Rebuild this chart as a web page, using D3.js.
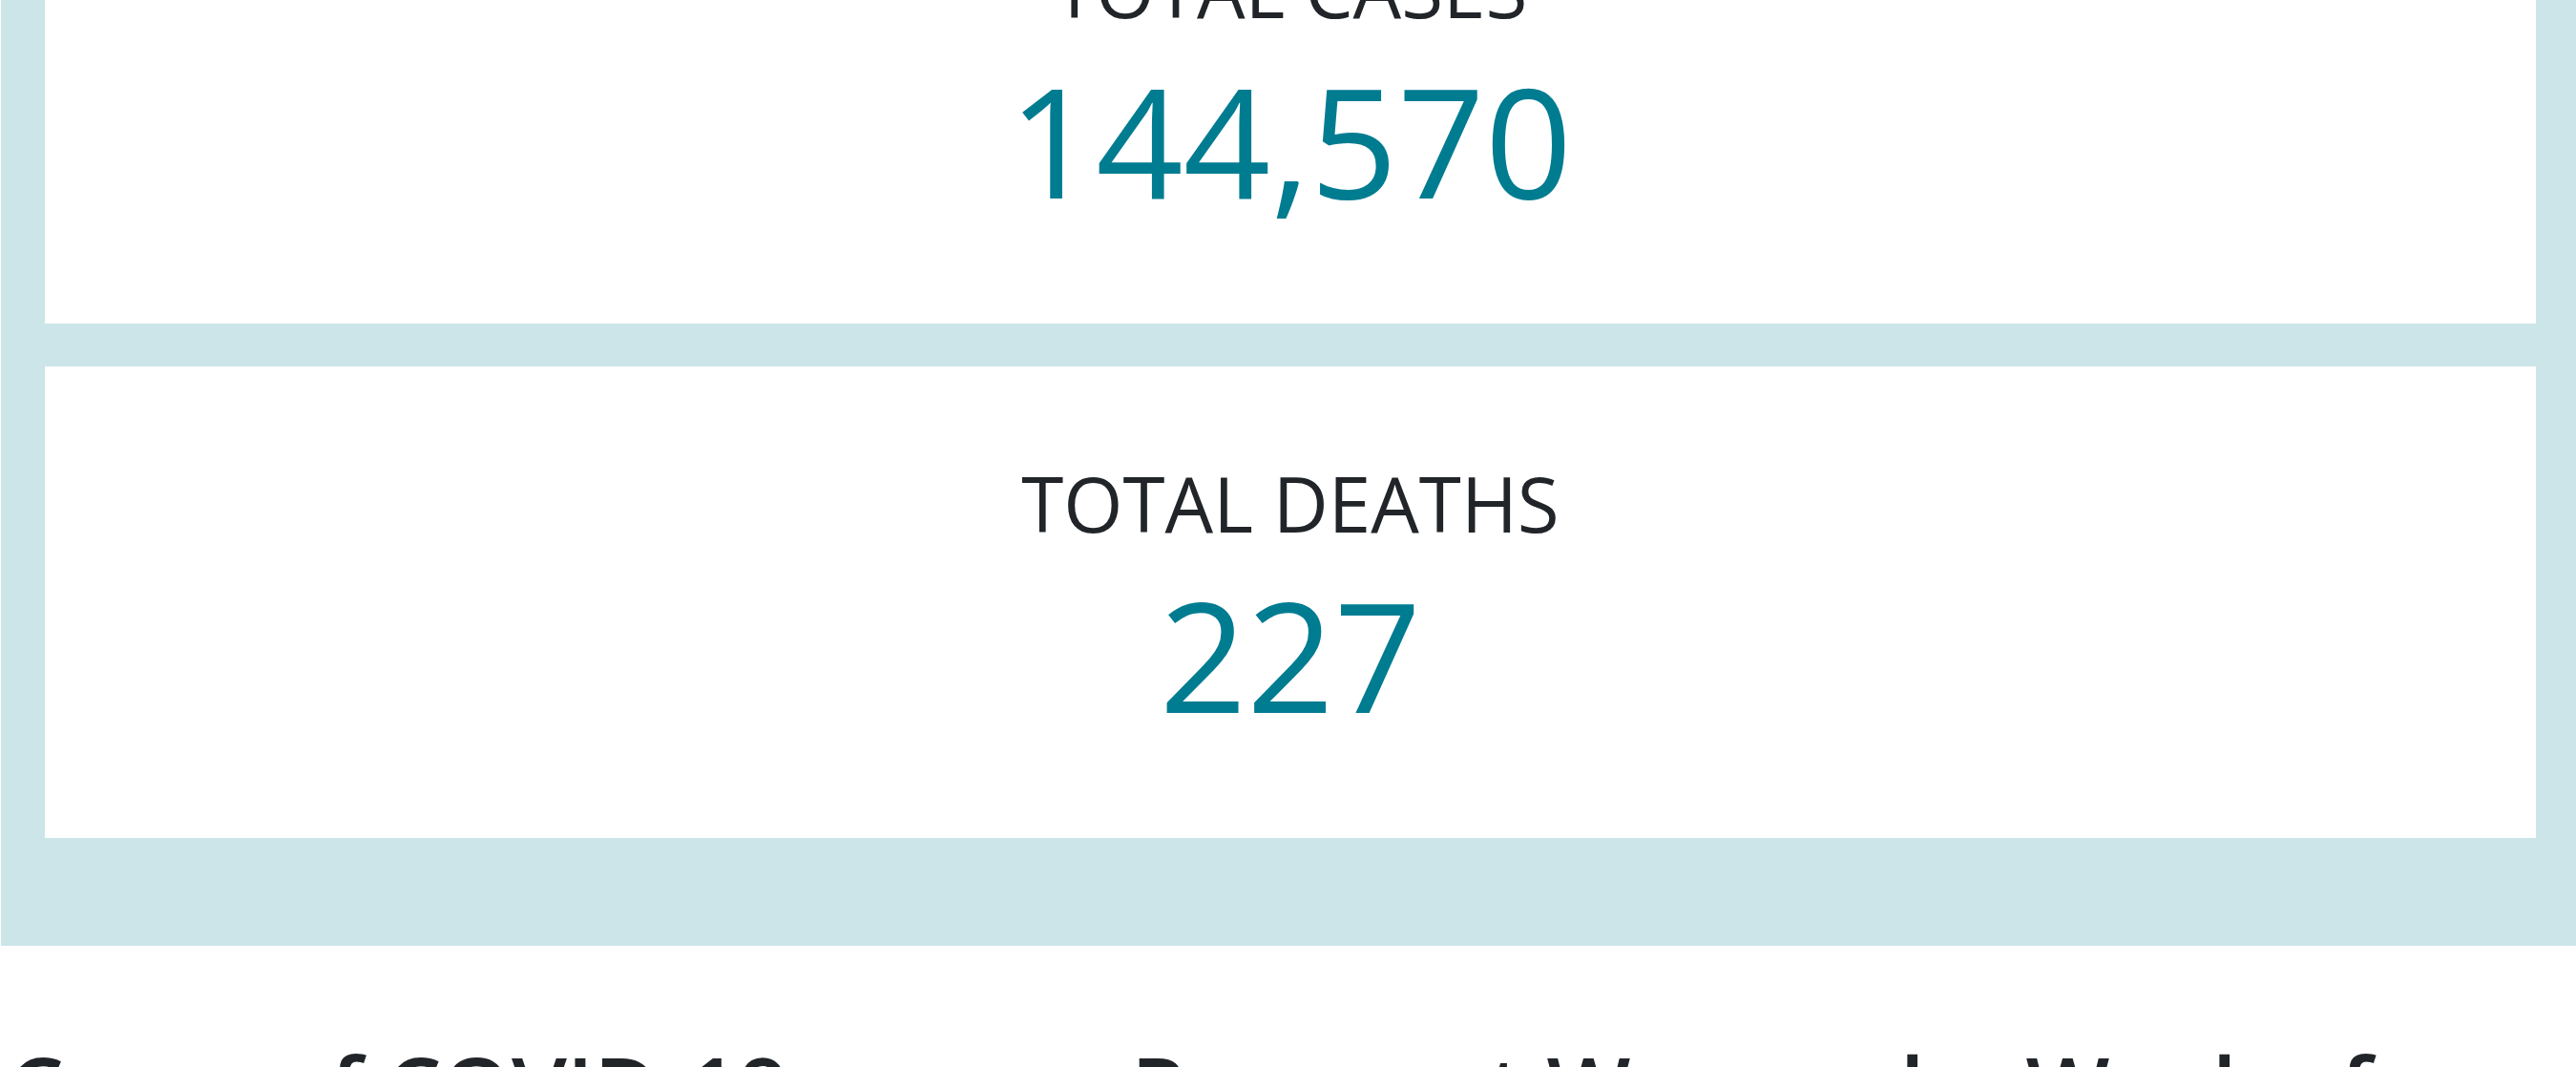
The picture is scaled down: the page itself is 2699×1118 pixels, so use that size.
<!DOCTYPE html>
<html>
<head>
<meta charset="utf-8">
<script src="https://cdn.jsdelivr.net/npm/d3@7"></script>
<style>
  html, body { margin: 0; padding: 0; background: #fff; overflow: hidden; }
  svg { display: block; font-family: "Open Sans", sans-serif; }
</style>
</head>
<body>
<svg id="kpi_svg" width="2699" height="1118"></svg>
<script>
// kpi cards
var labels = ["TOTAL CASES", "TOTAL DEATHS"];
var values = [144570, 227];
var title = "Cases of COVID-19 among Pregnant Women by Week of";

var data = labels.map(function (l, i) { return {label: l, value: values[i]}; });

var svg = d3.select("#kpi_svg"),
    width = +svg.attr("width"),
    frame = {left: 1, right: 2699, top: -220, bottom: 991},
    inner = {left: 47, right: 2657};

var fmt = d3.format(",");

// panels stacked vertically, part of the first one is scrolled out of view
var y = d3.scaleBand()
    .domain(labels)
    .range([-155, 878])
    .paddingInner(45 / 539)
    .paddingOuter(0);

var x = d3.scaleLinear().domain([0, 1]).range([inner.left, inner.right]);

svg.append("rect")
    .attr("x", frame.left)
    .attr("y", frame.top)
    .attr("width", frame.right - frame.left)
    .attr("height", frame.bottom - frame.top)
    .attr("fill", "#cce5e9");

var card = svg.selectAll(".card")
    .data(data)
    .enter()
    .append("g")
    .attr("class", "card")
    .attr("transform", function (d) { return "translate(0," + y(d.label) + ")"; });

card.append("rect")
    .attr("x", x(0))
    .attr("y", 0)
    .attr("width", x(1) - x(0))
    .attr("height", y.bandwidth())
    .attr("fill", "#fff");

card.append("text")
    .attr("x", x(0.5))
    .attr("y", 174)
    .attr("text-anchor", "middle")
    .attr("fill", "#212529")
    .style("font-size", "80px")
    .text(function (d) { return d.label; });

card.append("text")
    .attr("x", x(0.5))
    .attr("y", 363)
    .attr("text-anchor", "middle")
    .attr("fill", "#007c91")
    .style("font-size", "160px")
    .text(function (d) { return fmt(d.value); });

svg.append("text")
    .attr("x", 8)
    .attr("y", 1175)
    .attr("fill", "#212529")
    .style("font-size", "93px")
    .style("font-weight", 600)
    .text(title);
</script>
</body>
</html>
